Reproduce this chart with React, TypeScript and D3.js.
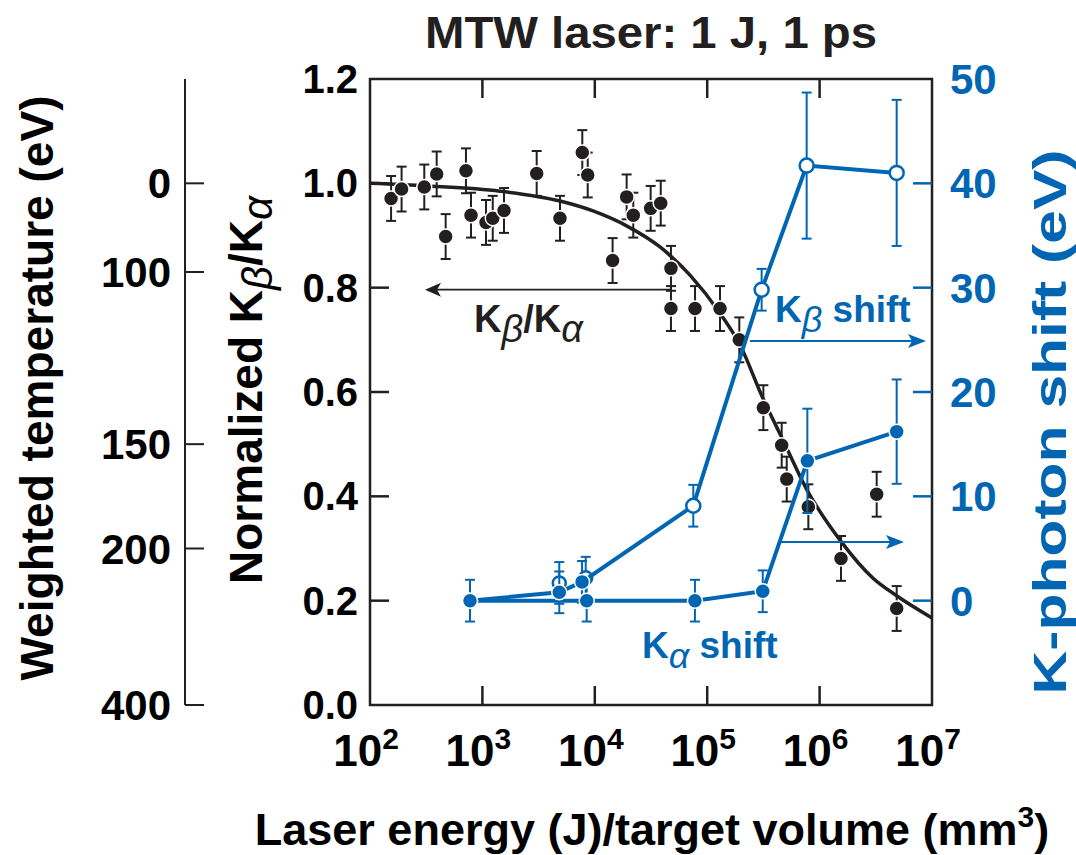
import * as d3 from "d3";

// Kβ/Kα measurements
const ratioEnergy = [154, 191, 304, 392, 471, 714, 792, 1077, 1236, 1557, 3041, 4900, 7740, 8650, 14400, 19200, 22000, 31400, 38600, 47600, 47600, 77900, 130000, 193000, 316000, 460000, 510000, 794000, 1550000, 3220000, 4850000];
const ratioValue = [0.971, 0.989, 0.993, 1.018, 0.898, 1.024, 0.939, 0.925, 0.933, 0.948, 1.019, 0.933, 1.059, 1.016, 0.852, 0.974, 0.939, 0.952, 0.962, 0.837, 0.76, 0.76, 0.76, 0.7, 0.57, 0.498, 0.433, 0.38, 0.281, 0.404, 0.185];
const ratioError = 0.043;

// fitted curve
const fitEnergy = [100, 321, 1436, 4900, 9640, 19360, 38000, 70300, 130000, 196000, 313000, 462000, 773000, 1520000, 2990000, 4880000, 10000000];
const fitRatio = [1.0, 0.995, 0.985, 0.966, 0.947, 0.918, 0.878, 0.824, 0.751, 0.69, 0.588, 0.512, 0.412, 0.316, 0.243, 0.209, 0.167];

// Kβ shift (eV)
const kbEnergy = [776, 4830, 7700, 75200, 305000, 767000, 4850000];
const kbShift = [0, 0.8, 1.8, 9.1, 29.8, 41.7, 41.0];
const kbError = [0, 2, 2, 2, 2, 7, 7];
const kbOpen = [false, false, false, true, true, true, true];
const kbExtraEnergy = [4830, 8300];
const kbExtraShift = [1.7, 2.2];

// Kα shift (eV)
const kaEnergy = [776, 8470, 77800, 312000, 778000, 4850000];
const kaShift = [0, 0, 0, 0.9, 13.4, 16.2];
const kaError = [2, 2, 2, 2, 5, 5];

const xTickExp = [2, 3, 4, 5, 6, 7];
const yTicks = [0, 0.2, 0.4, 0.6, 0.8, 1.0, 1.2];
const shiftTicks = [0, 10, 20, 30, 40, 50];
const tempTicks = [0, 100, 150, 200, 400];
const tempAsRatio = [1.0, 0.83, 0.5, 0.3, 0.0];

const BLUE = "#0066b3";
const INK = "#231f20";
const FONT = "'Liberation Sans', Arial, Helvetica, sans-serif";

export default function App() {
  const W = 1076, H = 855;
  const L = 370, R = 932, T = 79, B = 705;
  const x = d3.scaleLog().domain([1e2, 1e7]).range([L, R]);
  const y = d3.scaleLinear().domain([0, 1.2]).range([B, T]);
  const ys = d3.scaleLinear().domain([-10, 50]).range([B, T]);
  const tempToRatio = d3.scaleLinear().domain(tempTicks).range(tempAsRatio);

  const fitLine = d3.line<number>()
    .x((_, i) => x(fitEnergy[i]))
    .y(d => y(d))
    .curve(d3.curveMonotoneX)(fitRatio);

  const kbLine = d3.line<number>().x((_, i) => x(kbEnergy[i])).y(d => ys(d))(kbShift);
  const kaLine = d3.line<number>().x((_, i) => x(kaEnergy[i])).y(d => ys(d))(kaShift);

  const errBar = (cx: number, y1: number, y2: number, color: string, key: string) => (
    <g key={key} stroke={color} strokeWidth={2}>
      <line x1={cx} x2={cx} y1={y1} y2={y2} />
      <line x1={cx - 5} x2={cx + 5} y1={y1} y2={y1} />
      <line x1={cx - 5} x2={cx + 5} y1={y2} y2={y2} />
    </g>
  );

  const tickLen = 19;

  return (
    <svg width={W} height={H} style={{ position: "absolute", left: 0, top: 0, background: "#fff" }}
      fontFamily={FONT} fontWeight="bold">
      {/* title */}
      <text x={651} y={48} fontSize={44} textAnchor="middle" fill={INK} textLength={452} lengthAdjust="spacingAndGlyphs">MTW laser: 1 J, 1 ps</text>

      {/* weighted temperature axis */}
      <line x1={185} x2={185} y1={T} y2={B} stroke={INK} strokeWidth={2} />
      {tempTicks.map(t => {
        const py = y(tempToRatio(t));
        return (
          <g key={"tt" + t}>
            <line x1={185} x2={204} y1={py} y2={py} stroke={INK} strokeWidth={2} />
            <text x={171} y={py + 15} fontSize={42} textAnchor="end" fill="#000">{t}</text>
          </g>
        );
      })}
      <text transform={`translate(53,388) rotate(-90)`} fontSize={46} textAnchor="middle" fill="#000"
        textLength={585} lengthAdjust="spacingAndGlyphs">Weighted temperature (eV)</text>

      {/* normalized ratio axis title */}
      <text transform={`translate(262,390) rotate(-90)`} fontSize={46} textAnchor="middle" fill="#000">
        <tspan>Normalized K</tspan>
        <tspan fontStyle="italic" fontWeight="normal" dy={10} fontSize={42}>β</tspan>
        <tspan dy={-10}>/K</tspan>
        <tspan fontStyle="italic" fontWeight="normal" dy={10} fontSize={42}>α</tspan>
      </text>

      {/* left tick labels */}
      {yTicks.map(t => (
        <text key={"yl" + t} x={358} y={y(t) + 14} fontSize={40} textAnchor="end" fill="#000">{t.toFixed(1)}</text>
      ))}

      {/* right tick labels */}
      {shiftTicks.map(t => (
        <text key={"sl" + t} x={950} y={ys(t) + 15} fontSize={42} textAnchor="start" fill={BLUE}>{t}</text>
      ))}
      <text transform={`translate(1066,422) rotate(-90)`} fontSize={46} textAnchor="middle" fill={BLUE}
        textLength={545} lengthAdjust="spacingAndGlyphs">K-photon shift (eV)</text>

      {/* x tick labels */}
      {xTickExp.map(e => (
        <text key={"xl" + e} x={x(Math.pow(10, e)) - 4} y={766} fontSize={44} textAnchor="middle" fill="#000">
          10<tspan fontSize={30} dy={-17}>{e}</tspan>
        </text>
      ))}
      <text x={652} y={845} fontSize={45} textAnchor="middle" fill="#000">
        Laser energy (J)/target volume (mm<tspan fontSize={30} dy={-18}>3</tspan><tspan dy={18}>)</tspan>
      </text>

      {/* frame */}
      <rect x={L} y={T} width={R - L} height={B - T} fill="none" stroke={INK} strokeWidth={2.5} />
      {xTickExp.slice(1, -1).map(e => (
        <g key={"xt" + e} stroke={INK} strokeWidth={2.5}>
          <line x1={x(Math.pow(10, e))} x2={x(Math.pow(10, e))} y1={B} y2={B - tickLen} />
          <line x1={x(Math.pow(10, e))} x2={x(Math.pow(10, e))} y1={T} y2={T + tickLen} />
        </g>
      ))}
      {yTicks.slice(1, -1).map(t => (
        <line key={"yt" + t} x1={L} x2={L + tickLen} y1={y(t)} y2={y(t)} stroke={INK} strokeWidth={2.5} />
      ))}
      {shiftTicks.slice(0, -1).map(t => (
        <line key={"st" + t} x1={R} x2={R - tickLen} y1={ys(t)} y2={ys(t)} stroke={BLUE} strokeWidth={2.5} />
      ))}

      {/* black arrow and label */}
      <line x1={x(47600)} x2={432} y1={y(0.8) + 2} y2={y(0.8) + 2} stroke={INK} strokeWidth={1.8} />
      <path d={`M425,${y(0.8) + 2} l16,-7 l-4,7 l4,7 z`} fill={INK} />
      <text x={474} y={332} fontSize={38} fill={INK}>
        K<tspan fontStyle="italic" fontWeight="normal" dy={10} fontSize={38}>β</tspan>
        <tspan dy={-10}>/K</tspan>
        <tspan fontStyle="italic" fontWeight="normal" dy={10} fontSize={38}>α</tspan>
      </text>

      {/* fitted curve */}
      <path d={fitLine ?? ""} fill="none" stroke={INK} strokeWidth={3.5} />

      {/* ratio data */}
      {ratioEnergy.map((e, i) => errBar(x(e), y(ratioValue[i] + ratioError), y(ratioValue[i] - ratioError), INK, "re" + i))}
      {ratioEnergy.map((e, i) => (
        <circle key={"rc" + i} cx={x(e)} cy={y(ratioValue[i])} r={7.5} fill={INK} stroke="#fff" strokeWidth={1.5} />
      ))}

      {/* blue arrows */}
      <line x1={750} x2={912} y1={341} y2={341} stroke={BLUE} strokeWidth={2} />
      <path d="M926,341 l-18,-7 l4,7 l-4,7 z" fill={BLUE} />
      <line x1={781} x2={890} y1={542} y2={542} stroke={BLUE} strokeWidth={2} />
      <path d="M904,542 l-18,-7 l4,7 l-4,7 z" fill={BLUE} />

      {/* Kβ extra open points */}
      {kbExtraEnergy.map((e, i) => (
        <g key={"kx" + i}>
          {errBar(x(e), ys(kbExtraShift[i] + 2), ys(kbExtraShift[i] - 2), BLUE, "kxe" + i)}
          <circle cx={x(e)} cy={ys(kbExtraShift[i])} r={6.5} fill="#fff" stroke={BLUE} strokeWidth={2.5} />
        </g>
      ))}

      {/* Kα series */}
      {kaEnergy.map((e, i) => errBar(x(e), ys(kaShift[i] + kaError[i]), ys(kaShift[i] - kaError[i]), BLUE, "kae" + i))}
      <path d={kaLine ?? ""} fill="none" stroke={BLUE} strokeWidth={4} />

      {/* Kβ series */}
      {kbEnergy.map((e, i) => kbError[i] > 0 ? errBar(x(e), ys(kbShift[i] + kbError[i]), ys(kbShift[i] - kbError[i]), BLUE, "kbe" + i) : null)}
      <path d={kbLine ?? ""} fill="none" stroke={BLUE} strokeWidth={4} />

      {kaEnergy.map((e, i) => (
        <circle key={"kac" + i} cx={x(e)} cy={ys(kaShift[i])} r={7.5} fill={BLUE} stroke="#fff" strokeWidth={1.5} />
      ))}
      {kbEnergy.map((e, i) => (
        <circle key={"kbc" + i} cx={x(e)} cy={ys(kbShift[i])} r={kbOpen[i] ? 7 : 7.5}
          fill={kbOpen[i] ? "#fff" : BLUE} stroke={kbOpen[i] ? BLUE : "#fff"} strokeWidth={kbOpen[i] ? 2.5 : 1.5} />
      ))}

      {/* blue labels */}
      <text x={775} y={322} fontSize={37} fill={BLUE}>
        K<tspan fontStyle="italic" fontWeight="normal" dy={10} fontSize={36}>β</tspan>
        <tspan dy={-10}> shift</tspan>
      </text>
      <text x={642} y={658} fontSize={37} fill={BLUE}>
        K<tspan fontStyle="italic" fontWeight="normal" dy={10} fontSize={36}>α</tspan>
        <tspan dy={-10}> shift</tspan>
      </text>
    </svg>
  );
}
